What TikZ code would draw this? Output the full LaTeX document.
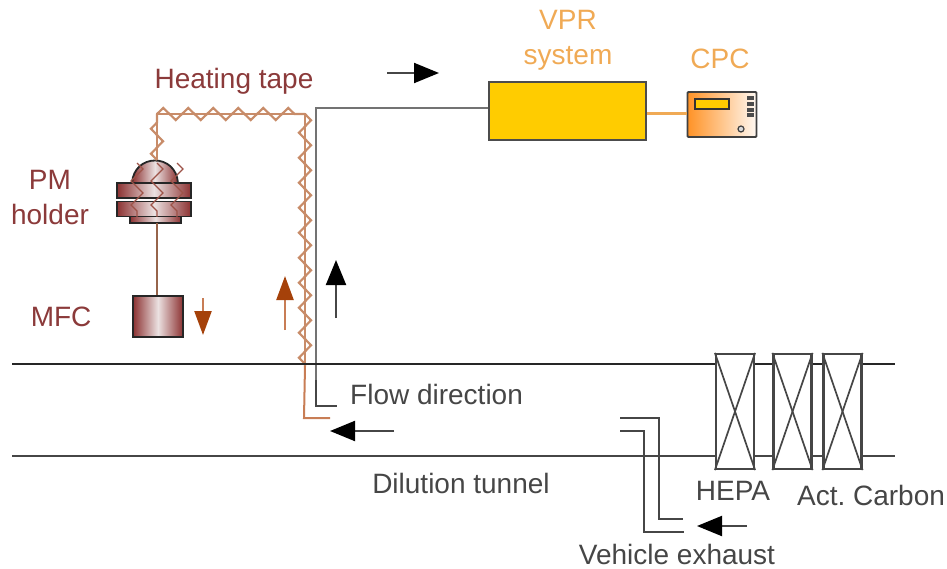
\documentclass[tikz,border=0pt]{standalone}
\usepackage{fontspec}
\setmainfont{Liberation Sans}
\usepackage{xcolor}
\usetikzlibrary{arrows.meta, positioning, decorations.pathmorphing}
\definecolor{cbrown}{RGB}{139,58,58}
\definecolor{cholder}{RGB}{140,50,50}
\definecolor{cshine}{RGB}{235,225,225}
\definecolor{ctape}{RGB}{200,140,105}
\definecolor{cstem}{RGB}{150,100,75}
\definecolor{cpipe}{RGB}{200,125,85}
\definecolor{cyellow}{RGB}{255,204,0}
\definecolor{corange}{RGB}{240,170,85}
\definecolor{cdark}{RGB}{70,70,70}
\definecolor{cgraypipe}{RGB}{115,115,115}
\definecolor{cflow}{RGB}{165,65,10}

\begin{document}
\begin{tikzpicture}[
  x=1pt, y=-1pt,
  lbl/.style     = {font=\fontsize{28}{34}\selectfont, text=cdark, inner sep=0pt, align=center},
  brownlbl/.style= {lbl, text=cbrown},
  orglbl/.style  = {lbl, text=corange},
  part/.style    = {rectangle, draw=black!85, line width=1.8pt, inner sep=0pt,
                    left color=cholder, right color=cholder, middle color=cshine},
  filt/.style    = {rectangle, draw=cdark, line width=2.2pt, inner sep=0pt,
                    minimum width=38pt, minimum height=115pt},
  tape/.style    = {ctape, line width=2.2pt, decorate,
                    decoration={zigzag, segment length=25pt, amplitude=6pt}},
  tapecore/.style= {ctape, line width=2.2pt},
  thintape/.style= {cbrown!70!ctape, line width=1.2pt, decorate,
                    decoration={zigzag, segment length=24pt, amplitude=6pt}},
  tube/.style    = {cdark, line width=2pt},
  arr/.style     = {-{Triangle[length=25pt,width=20pt,color=black]}, cdark, line width=2pt},
  brarr/.style   = {-{Triangle[length=24pt,width=17pt,color=cflow]}, cpipe, line width=2.4pt},
]
\useasboundingbox (0,0) rectangle (947,569);

%% --- VPR and CPC ---
\node[rectangle, draw=black!70, line width=2pt, fill=cyellow, minimum width=157pt,
      minimum height=58pt, inner sep=0pt] (vpr) at (567.5,111) {};
\node[rectangle, rounded corners=1pt, draw=black!75, line width=1.8pt, left color=orange!85,
      right color=orange!5, minimum width=69pt, minimum height=45pt, inner sep=0pt] (cpc) at (722,114.5) {};
\node[rectangle, draw=black!80, line width=1.5pt, fill=cyellow, minimum width=34pt,
      minimum height=10pt, inner sep=0pt] (cpcdisp) at (712,104) {};
\foreach \ypos in {98,104,110,115}
  \node[rectangle, fill=black!70, minimum width=7pt, minimum height=4pt, inner sep=0pt] (cpcbtn\ypos) at (750,\ypos) {};
\node[circle, draw=black!75, line width=1.2pt, fill=white!70!gray, minimum size=6pt, inner sep=0pt] (cpcknob) at (741,129) {};
\node[orglbl, text width=120pt] (vprlbl) at (568,40) {VPR\\[1pt]system};
\node[orglbl] (cpclbl) at (720,59) {CPC};
\draw[corange, line width=3pt] (vpr.east) ++(0,3) coordinate (vprout) -- (cpc.west |- vprout);

%% --- PM holder and MFC ---
\draw[draw=black!85, line width=1.8pt, left color=cholder, right color=cholder, middle color=cshine]
  (132,183) .. controls (134,153) and (176,153) .. (178,183) -- cycle;
\node[part, minimum width=51pt, minimum height=7pt]  (holdbot) at (155.5,219.5) {};
\node[part, minimum width=74pt, minimum height=15pt] (flangea) at (154,190.5) {};
\node[part, minimum width=74pt, minimum height=15pt] (flangeb) at (154,209) {};
\node[part, minimum width=50pt, minimum height=41pt] (mfc) at (158,316.5) {};
\draw[cstem, line width=1.6pt] (157,223) coordinate (holdout) -- (mfc.north -| holdout);
\node[brownlbl, text width=90pt] (pmlbl) at (50,198) {PM\\[1pt]holder};
\node[brownlbl, left=71pt of mfc.west, anchor=center] (mfclbl) {MFC};

%% --- Heating tape ---
\coordinate (tapea) at (157,160);
\coordinate (tapeb) at (157,114);
\coordinate (tapec) at (305,114);
\coordinate (taped) at (305,366);
\draw[tapecore] (tapea) -- (tapeb) -- (tapec) -- (taped);
\draw[tape] (tapea) -- (tapeb);
\draw[tape] (tapeb) -- (tapec);
\draw[tape] (tapec) -- (taped);
\foreach \xpos in {137,157,177}
  \draw[thintape] (\xpos,163) -- (\xpos,217);
\node[brownlbl] (tapelbl) at (234,81) {Heating tape};

%% --- Sampling lines ---
\coordinate (samplend) at (330,418);
\coordinate (graynd) at (337,406);
\draw[cpipe, line width=2pt] (taped) -- (304,418) -- (samplend);
\draw[cgraypipe, line width=2.8pt] (vpr.west |- 0,108) -- (316,108) -- (316,380);
\draw[tube] (316,380) -- (316,406) -- (graynd);

%% --- Tunnel ---
\coordinate (tunla) at (12,364);
\coordinate (tunlb) at (895,364);
\coordinate (tunlc) at (12,456);
\coordinate (tunld) at (895,456);
\draw[black!85, line width=1.7pt] (tunla) -- (tunlb);
\draw[cdark, line width=2.2pt] (tunlc) -- (tunld);
\foreach \cx/\name in {735/hepa,792.5/carba,842.5/carbb} {
  \node[filt, fill=white] (\name) at (\cx,411.5) {};
  \draw[cdark, line width=1.7pt] (\name.north west) -- (\name.south east);
  \draw[cdark, line width=1.7pt] (\name.north east) -- (\name.south west);
}

%% --- Exhaust inlet ---
\coordinate (exha) at (620,418);
\coordinate (exhb) at (683,519);
\coordinate (exhc) at (620,431);
\coordinate (exhd) at (684,532);
\draw[tube] (exha) -| (659,519) -- (exhb);
\draw[tube] (exhc) -| (644,532) -- (exhd);

%% --- Arrows ---
\coordinate (arra) at (387,73);
\coordinate (arrb) at (439,73);
\draw[arr] (arra) -- (arrb);
\coordinate (arrc) at (336,318);
\coordinate (arrd) at (336,260);
\draw[arr] (arrc) -- (arrd);
\coordinate (arre) at (394,431);
\coordinate (arrf) at (330,431);
\draw[arr] (arre) -- (arrf);
\coordinate (arrg) at (747,526);
\coordinate (arrh) at (697,526);
\draw[arr] (arrg) -- (arrh);
\coordinate (arri) at (285,330);
\coordinate (arrj) at (285,276);
\draw[brarr] (arri) -- (arrj);
\coordinate (arrk) at (203,298);
\coordinate (arrl) at (203,335);
\draw[brarr] (arrk) -- (arrl);

%% --- Labels ---
\node[lbl, anchor=west] (flowlbl) at (350,394) {Flow direction};
\node[lbl] (tunnellbl) at (461,483) {Dilution tunnel};
\node[lbl] (hepalbl) at (733,491) {HEPA};
\node[lbl] (carblbl) at (871,495) {Act.\ Carbon};
\node[lbl] (exhlbl) at (677,554) {Vehicle exhaust};

\end{tikzpicture}
\end{document}
